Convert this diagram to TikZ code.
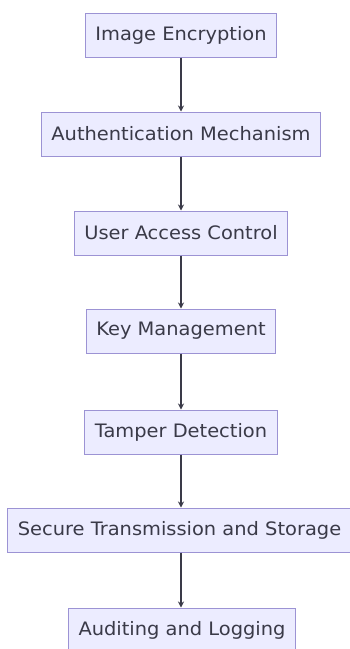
\documentclass[tikz,border=0pt]{standalone}
\usepackage{fontspec}
\setmainfont{DejaVu Sans}[FakeStretch=1.05]
\usetikzlibrary{arrows.meta}
\definecolor{boxfill}{HTML}{ECECFF}
\definecolor{boxline}{HTML}{9C93D4}
\definecolor{ink}{HTML}{3A3A48}
\tikzset{
  stepbox/.style={draw=boxline, fill=boxfill, line width=1pt,
    minimum height=44pt, inner xsep=10pt, text=ink,
    font=\fontsize{18.5}{22}\selectfont},
  flow/.style={draw=ink, line width=1.8pt, -{Stealth[length=6pt,width=6pt]}}
}
\begin{document}
\begin{tikzpicture}[x=1pt,y=1pt]
  \useasboundingbox (0,0) rectangle (350,-649);
  \node[stepbox] (enc)  at (181,-35)  {Image Encryption};
  \node[stepbox] (auth) at (181,-134) {Authentication Mechanism};
  \node[stepbox] (uac)  at (181,-233) {User Access Control};
  \node[stepbox] (key)  at (181,-331) {Key Management};
  \node[stepbox] (tmp)  at (181,-432) {Tamper Detection};
  \node[stepbox] (sec)  at (179.5,-530) {Secure Transmission and Storage};
  \node[stepbox] (aud)  at (182,-630) {Auditing and Logging};
  % all connectors run straight down the common axis
  \draw[flow] (enc.south) -- (enc.south |- auth.north);
  \draw[flow] (auth.south) -- (auth.south |- uac.north);
  \draw[flow] (uac.south) -- (uac.south |- key.north);
  \draw[flow] (key.south) -- (key.south |- tmp.north);
  \draw[flow] (tmp.south) -- (tmp.south |- sec.north);
  \draw[flow] (tmp.south |- sec.south) -- (tmp.south |- aud.north);
\end{tikzpicture}
\end{document}
